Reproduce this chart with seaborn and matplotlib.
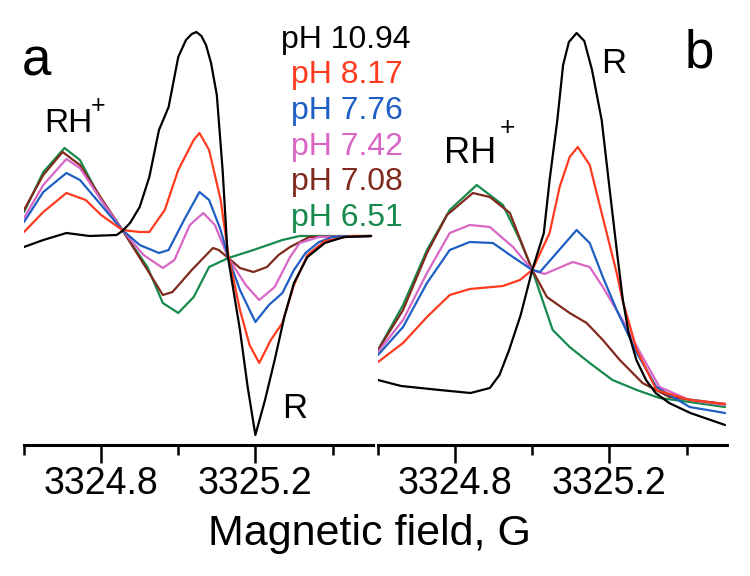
import pandas as pd
import matplotlib
matplotlib.use("Agg")
import matplotlib.pyplot as plt
import seaborn as sns

sns.set_theme(style="white", context="notebook",
              rc={"text.color": "black", "xtick.color": "black", "axes.labelcolor": "black"})
plt.rcParams["font.family"] = ["Liberation Sans", "DejaVu Sans"]

PH_LABELS = ["pH 10.94", "pH 8.17", "pH 7.76", "pH 7.42", "pH 7.08", "pH 6.51"]
COLORS = ["#000000", "#ff3b1f", "#1f5fc4", "#d966c6", "#7f2a1c", "#168a4c"]

TICKS_MAJOR = [3324.8, 3325.2]
TICKS_MINOR = [3324.6, 3325.0, 3325.4]
TICK_LABELS = ["3324.8", "3325.2"]

# panel a: first-derivative EPR spectra (arbitrary units)
A_FIELD_1094 = [3324.60, 3324.65, 3324.71, 3324.77, 3324.84, 3324.855, 3324.875, 3324.90,
                3324.925, 3324.95, 3324.975, 3325.00, 3325.02, 3325.035, 3325.047, 3325.06,
                3325.072, 3325.085, 3325.10, 3325.115, 3325.128, 3325.16, 3325.18, 3325.20,
                3325.225, 3325.25, 3325.275, 3325.30, 3325.335, 3325.38, 3325.43, 3325.50]
A_SIGNAL_1094 = [-12, -5, 2, -1, 0, 4, 12, 28, 58, 105, 128, 178, 195, 201, 203, 199,
                 190, 172, 140, 65, -20, -95, -152, -200, -165, -125, -82, -48, -22, -8, -2, -1]

A_FIELD_817 = [3324.60, 3324.65, 3324.71, 3324.76, 3324.80, 3324.855, 3324.90, 3324.925,
               3324.965, 3325.00, 3325.04, 3325.055, 3325.08, 3325.11, 3325.13, 3325.16,
               3325.185, 3325.21, 3325.24, 3325.27, 3325.30, 3325.335, 3325.38, 3325.45, 3325.50]
A_SIGNAL_817 = [3, 23, 42, 35, 20, 5, 3, 3, 25, 65, 95, 102, 85, 35, -20, -75,
                -110, -128, -105, -88, -50, -20, -6, -1, -1]

A_FIELD_776 = [3324.60, 3324.65, 3324.71, 3324.745, 3324.80, 3324.855, 3324.90, 3324.95,
               3324.975, 3325.015, 3325.055, 3325.08, 3325.11, 3325.13, 3325.16, 3325.20,
               3325.235, 3325.27, 3325.30, 3325.33, 3325.365, 3325.40, 3325.50]
A_SIGNAL_776 = [13, 43, 62, 55, 30, 5, -10, -18, -15, 15, 43, 35, 5, -23, -55, -87,
                -70, -58, -35, -18, -7, -2, -1]

A_FIELD_742 = [3324.60, 3324.65, 3324.71, 3324.745, 3324.80, 3324.855, 3324.91, 3324.96,
               3324.99, 3325.03, 3325.065, 3325.095, 3325.13, 3325.175, 3325.21, 3325.25,
               3325.29, 3325.315, 3325.365, 3325.50]
A_SIGNAL_742 = [17, 50, 76, 67, 35, 5, -20, -33, -25, 10, 22, 10, -23, -50, -65, -52,
                -22, -8, -2, -1]

A_FIELD_708 = [3324.60, 3324.65, 3324.70, 3324.745, 3324.80, 3324.855, 3324.92, 3324.96,
               3324.985, 3325.035, 3325.09, 3325.105, 3325.13, 3325.16, 3325.195, 3325.23,
               3325.26, 3325.29, 3325.34, 3325.50]
A_SIGNAL_708 = [25, 60, 83, 70, 37, 5, -35, -60, -57, -35, -13, -15, -23, -33, -37, -32,
                -20, -12, -2, -1]

A_FIELD_651 = [3324.60, 3324.65, 3324.705, 3324.745, 3324.80, 3324.855, 3324.92, 3324.96,
               3325.00, 3325.04, 3325.08, 3325.13, 3325.195, 3325.27, 3325.315, 3325.50]
A_SIGNAL_651 = [23, 63, 87, 75, 35, 5, -32, -68, -78, -62, -32, -23, -15, -5, -1, -1]

# panel b: integrated (absorption) spectra (arbitrary units)
B_FIELD_1094 = [3324.60, 3324.66, 3324.76, 3324.84, 3324.89, 3324.915, 3324.94, 3324.97,
                3325.00, 3325.03, 3325.045, 3325.065, 3325.08, 3325.095, 3325.115, 3325.135,
                3325.155, 3325.18, 3325.20, 3325.22, 3325.235, 3325.25, 3325.27, 3325.295,
                3325.32, 3325.355, 3325.41, 3325.50]
B_SIGNAL_1094 = [65, 59, 55, 52, 57, 70, 95, 130, 175, 212, 265, 325, 380, 403, 412, 404,
                 375, 325, 258, 192, 145, 112, 85, 65, 52, 42, 32, 20]

B_FIELD_817 = [3324.60, 3324.665, 3324.727, 3324.786, 3324.838, 3324.924, 3324.968, 3325.00,
               3325.045, 3325.071, 3325.097, 3325.118, 3325.149, 3325.167, 3325.193, 3325.219,
               3325.234, 3325.271, 3325.322, 3325.408, 3325.50]
B_SIGNAL_817 = [83, 102, 128, 150, 156, 159, 165, 175, 212, 258, 288, 298, 280, 252, 212,
                172, 145, 95, 55, 45, 41]

B_FIELD_776 = [3324.60, 3324.665, 3324.727, 3324.786, 3324.838, 3324.898, 3324.95, 3325.00,
               3325.02, 3325.063, 3325.115, 3325.149, 3325.183, 3325.219, 3325.271, 3325.322,
               3325.408, 3325.50]
B_SIGNAL_776 = [90, 118, 162, 195, 203, 202, 188, 175, 173, 192, 215, 202, 168, 135, 92,
                58, 38, 32]

B_FIELD_742 = [3324.60, 3324.665, 3324.727, 3324.786, 3324.838, 3324.89, 3324.95, 3325.00,
               3325.032, 3325.105, 3325.149, 3325.183, 3325.234, 3325.286, 3325.33, 3325.408,
               3325.50]
B_SIGNAL_742 = [93, 125, 172, 212, 220, 218, 198, 175, 171, 183, 178, 158, 125, 88, 58,
                45, 40]

B_FIELD_708 = [3324.60, 3324.665, 3324.727, 3324.779, 3324.846, 3324.89, 3324.942, 3325.00,
               3325.038, 3325.097, 3325.141, 3325.183, 3325.227, 3325.286, 3325.356, 3325.50]
B_SIGNAL_708 = [95, 135, 192, 230, 252, 248, 232, 175, 148, 132, 122, 105, 85, 62, 48, 41]

B_FIELD_651 = [3324.60, 3324.665, 3324.727, 3324.786, 3324.856, 3324.924, 3324.968, 3325.00,
               3325.053, 3325.097, 3325.149, 3325.208, 3325.271, 3325.33, 3325.408, 3325.50]
B_SIGNAL_651 = [95, 140, 195, 235, 260, 240, 205, 175, 115, 98, 82, 65, 55, 47, 43, 38]

A_FIELDS = [A_FIELD_1094, A_FIELD_817, A_FIELD_776, A_FIELD_742, A_FIELD_708, A_FIELD_651]
A_SIGNALS = [A_SIGNAL_1094, A_SIGNAL_817, A_SIGNAL_776, A_SIGNAL_742, A_SIGNAL_708, A_SIGNAL_651]
B_FIELDS = [B_FIELD_1094, B_FIELD_817, B_FIELD_776, B_FIELD_742, B_FIELD_708, B_FIELD_651]
B_SIGNALS = [B_SIGNAL_1094, B_SIGNAL_817, B_SIGNAL_776, B_SIGNAL_742, B_SIGNAL_708, B_SIGNAL_651]


def to_frame(fields, signals):
    parts = [pd.DataFrame({"field": x, "signal": y, "pH": lab})
             for lab, x, y in zip(PH_LABELS, fields, signals)]
    return pd.concat(parts, ignore_index=True)


W, H = 750, 576
fig = plt.figure(figsize=(W / 100, H / 100), dpi=100)


def px_axes(left, top, right, bottom):
    return fig.add_axes([left / W, 1 - bottom / H, (right - left) / W, (bottom - top) / H])


def px_text(x, y, s, **kw):
    kw.setdefault("color", "black")
    fig.text(x / W, 1 - y / H, s, **kw)


ax_a = px_axes(24, 20, 373, 445)
ax_b = px_axes(378, 20, 727, 445)
palette = dict(zip(PH_LABELS, COLORS))

for ax, fields, signals, ylim in [(ax_a, A_FIELDS, A_SIGNALS, (-210, 215)),
                                  (ax_b, B_FIELDS, B_SIGNALS, (0, 425))]:
    sns.lineplot(data=to_frame(fields, signals), x="field", y="signal", hue="pH",
                 hue_order=PH_LABELS[::-1], palette=palette, estimator=None,
                 sort=False, linewidth=1.6, legend=False, ax=ax)
    ax.set_xlim(3324.6, 3325.505)
    ax.set_ylim(*ylim)
    ax.set_xticks(TICKS_MAJOR)
    ax.set_xticklabels(TICK_LABELS, fontsize=27, color="black")
    ax.set_xticks(TICKS_MINOR, minor=True)
    ax.tick_params(axis="x", which="major", length=13, width=1.8, pad=2, direction="out",
                   bottom=True, color="black")
    ax.tick_params(axis="x", which="minor", length=7, width=1.8, direction="out",
                   bottom=True, color="black")
    ax.set_yticks([])
    ax.set_xlabel("")
    ax.set_ylabel("")
    for side in ["left", "top", "right"]:
        ax.spines[side].set_visible(False)
    ax.spines["bottom"].set_linewidth(2.2)
    ax.spines["bottom"].set_color("black")
    ax.patch.set_alpha(0)

# panel letters and peak labels
px_text(22, 75, "a", fontsize=38, va="baseline")
px_text(685, 67, "b", fontsize=38, va="baseline")
px_text(44, 132, "RH", fontsize=24, va="baseline")
px_text(98, 106, "+", fontsize=18, ha="center", va="center")
px_text(444, 163, "RH", fontsize=26, va="baseline")
px_text(507, 128, "+", fontsize=19, ha="center", va="center")
px_text(282, 418, "R", fontsize=25, va="baseline")
px_text(601, 73, "R", fontsize=25, va="baseline")

# pH legend as coloured text
legend_x = [281, 291, 291, 291, 291, 291]
legend_y = [48, 83, 119, 155, 190, 226]
for lab, col, lx, ly in zip(PH_LABELS, COLORS, legend_x, legend_y):
    px_text(lx, ly, lab, fontsize=23, color=col, va="baseline")

px_text(370, 545, "Magnetic field, G", fontsize=31, ha="center", va="baseline")

fig.savefig("out.png", dpi=100)
